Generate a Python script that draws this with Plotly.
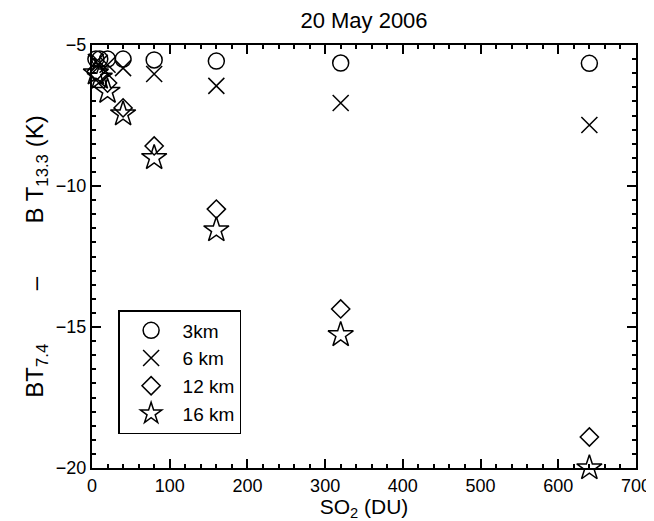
import plotly.graph_objects as go

so2 = [5, 10, 20, 40, 80, 160, 320, 640]
km3 = [-5.50, -5.50, -5.50, -5.50, -5.53, -5.57, -5.64, -5.65]
km6 = [-5.60, -5.63, -5.70, -5.82, -6.03, -6.45, -7.06, -7.84]
km12 = [-5.95, -6.05, -6.35, -7.23, -8.58, -10.82, -14.36, -18.90]
km16 = [-6.00, -6.15, -6.65, -7.45, -9.00, -11.56, -15.28, -20.00]

series = [
    ("3km", km3, "circle-open", 16),
    ("6 km", km6, "x-thin-open", 16),
    ("12 km", km12, "diamond-open", 14),
    ("16 km", km16, "star-open", 19),
]

FONT = "Liberation Sans, Arial, Helvetica, sans-serif"

fig = go.Figure()
for name, ys, sym, sz in series:
    fig.add_trace(go.Scatter(
        x=so2, y=ys, name=name, mode="markers",
        marker=dict(symbol=sym, size=sz, color="black",
                    line=dict(color="black", width=1.5)),
        cliponaxis=False,
    ))

axis_common = dict(
    showgrid=False, zeroline=False, showline=True, linecolor="black",
    linewidth=2, mirror="ticks", ticks="inside", ticklen=9, tickwidth=1.5,
    tickcolor="black", tickfont=dict(family=FONT, size=18, color="black"),
    automargin=False,
)

NB = "\u00a0" * 8
fig.update_xaxes(
    range=[0, 700], dtick=100, tick0=0,
    minor=dict(dtick=20, ticks="inside", ticklen=4, tickcolor="black", tickwidth=1.5),
    title=dict(text="SO<sub>2</sub> (DU)", font=dict(family=FONT, size=21, color="black"), standoff=7),
    **axis_common,
)
fig.update_yaxes(
    range=[-20, -5], dtick=5, tick0=-20,
    minor=dict(dtick=0.5, ticks="inside", ticklen=4, tickcolor="black", tickwidth=1.5),
    title=dict(text="BT<sub>7.4</sub>" + NB + "\u2013" + NB + "B T<sub>13.3</sub> (K)",
               font=dict(family=FONT, size=24, color="black"), standoff=5),
    **axis_common,
)

fig.update_layout(
    width=646, height=513,
    margin=dict(l=84, r=18, t=37, b=53, autoexpand=False),
    paper_bgcolor="white", plot_bgcolor="white",
    title=dict(text="20 May 2006", xref="paper", x=0.5, xanchor="center",
               yref="container", y=0.9766, yanchor="middle",
               font=dict(family=FONT, size=22, color="black")),
    showlegend=True,
    legend=dict(x=0.048, y=0.3735, xanchor="left", yanchor="top",
                bordercolor="black", borderwidth=1.5, bgcolor="white",
                font=dict(family=FONT, size=19, color="black"),
                itemwidth=53, tracegroupgap=0),
    font=dict(family=FONT, color="black"),
)

fig.write_html("out.html")
